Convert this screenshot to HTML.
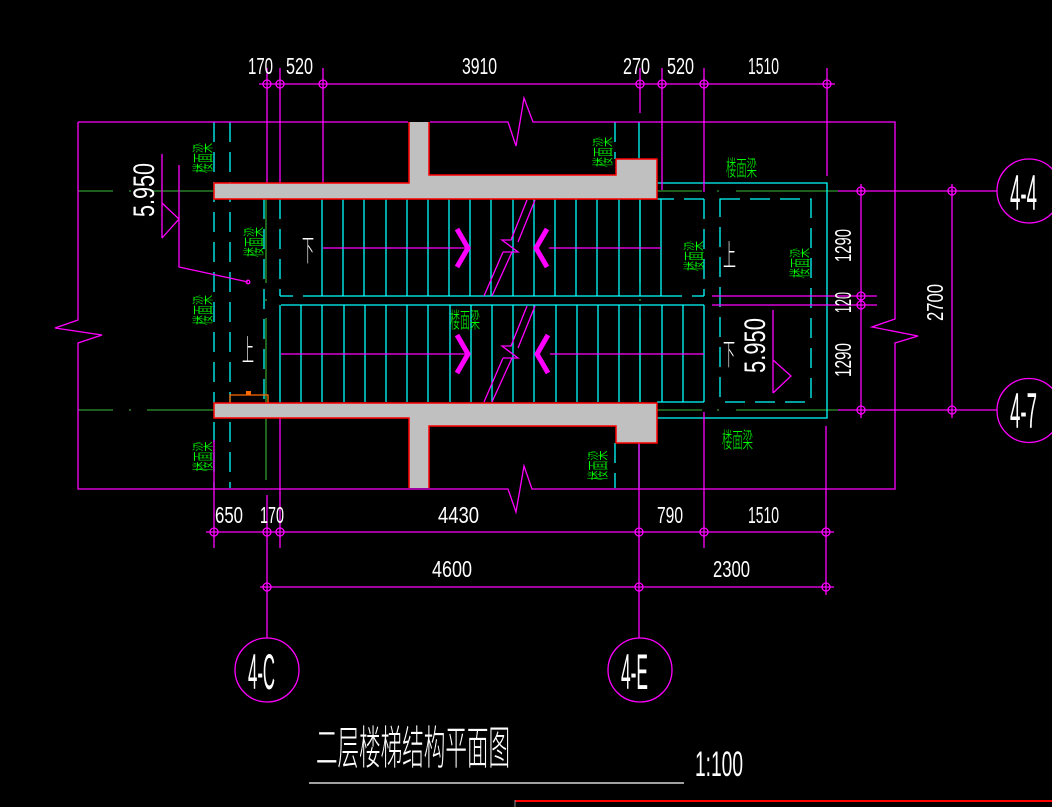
<!DOCTYPE html>
<html><head><meta charset="utf-8"><style>
html,body{margin:0;padding:0;background:#000;}
svg{display:block}
text{font-family:"DejaVu Sans ExtraLight","Liberation Sans","Noto Sans CJK SC",sans-serif;font-weight:200;}
</style></head><body>
<svg width="1052" height="807" viewBox="0 0 1052 807" xmlns="http://www.w3.org/2000/svg">
<rect width="1052" height="807" fill="#000"/>

<!-- green axis lines -->
<g stroke="#2f9a2f" stroke-width="1.3" fill="none">
<path d="M78,191H113M129,191H131M150,191H214M657,191H702M717,191H719M736,191H838"/>
<path d="M78,410H113M129,410H131M147,410H214M657,410H702M717,410H719M736,410H838"/>
<path d="M266,199V283M266,299V301M266,318V480"/>
<path d="M640,199V283M640,299V301M640,318V402"/>
</g>

<!-- cyan -->
<g stroke="#00ffff" stroke-width="1.3" fill="none">
<path d="M214,122V488M230,122V488" stroke-dasharray="20 10"/>
<path d="M264,199V403" stroke-dasharray="20 10"/>
<path d="M280,199V296" stroke-dasharray="20 10"/>
<path d="M704,199V296" stroke-dasharray="20 10"/>
<path d="M615,122V159M615,443V488" stroke-dasharray="20 10"/>
<path d="M639,122V159M639,443V488"/>
<path d="M280,296H293M303,296H682M692,296H704"/>
<path d="M281,305H704M280,305V403"/>
<path d="M657,199H674M684,199H704M657,402H704"/>
<path d="M322,199V296M343,199V296M364,199V296M386,199V296M407,199V296M428,199V296M449,199V296M470,199V296M491,199V296M513,199V296M534,199V296M555,199V296M576,199V296M597,199V296M619,199V296M640,199V296M661,199V296"/>
<path d="M301,305V402M322,305V402M344,305V402M365,305V402M386,305V402M407,305V402M428,305V402M450,305V402M471,305V402M492,305V402M513,305V402M534,305V402M556,305V402M577,305V402M598,305V402M619,305V402M640,305V402M662,305V402M683,305V402M704,305V402"/>
<rect x="720" y="199" width="91" height="203" stroke-dasharray="20 10"/>
<path d="M657,183H827V418H657"/>
</g>

<!-- magenta -->
<g stroke="#ff00ff" stroke-width="1.3" fill="none">
<path d="M78,122H408M430,122H508L516,146L524,98L533,122H895V319L872,327L918,336L895,343V489H532L524,466L516,512L508,489H78V343L102,335L55,328L78,320V122"/>
<path d="M259,84H835M267,68V183M280,68V183M323,68V183M640,68V113M662,68V190M704,68V192M827,68V176"/>
<path d="M206,532H834M260,587H834M214,440V548M267,495V638M280,418V548M639,443V638M704,412V548M826,426V595"/>
<path d="M838,191H997M838,410H997M861,184V418M952,184V418M712,296H877M712,305H877"/>
<circle cx="267" cy="84" r="4"/><circle cx="280" cy="84" r="4"/><circle cx="323" cy="84" r="4"/>
<circle cx="640" cy="84" r="4"/><circle cx="662" cy="84" r="4"/><circle cx="704" cy="84" r="4"/><circle cx="827" cy="84" r="4"/>
<circle cx="214" cy="532" r="4"/><circle cx="267" cy="532" r="4"/><circle cx="280" cy="532" r="4"/>
<circle cx="639" cy="532" r="4"/><circle cx="704" cy="532" r="4"/><circle cx="826" cy="532" r="4"/>
<circle cx="267" cy="587" r="4"/><circle cx="639" cy="587" r="4"/><circle cx="826" cy="587" r="4"/>
<circle cx="861" cy="191" r="4"/><circle cx="861" cy="296" r="4"/><circle cx="861" cy="305" r="4"/><circle cx="861" cy="410" r="4"/>
<circle cx="952" cy="191" r="4"/><circle cx="952" cy="410" r="4"/>
<circle cx="267" cy="670" r="32"/><circle cx="640" cy="670" r="32"/>
<circle cx="1029" cy="191" r="32"/><circle cx="1029" cy="410.5" r="32"/>
<path d="M162,154V238M162,203L179,219L162,238M179,165V267L248,282"/>
<circle cx="248" cy="282" r="1.8"/>
<path d="M773,310V393M773,360L791,376L773,393"/>
<path d="M323,248H467M549,248H661M281,354H467M550,354H704"/>
<path d="M484,296L503,252M492,296L512,252M503,252H518L502,240H511L527,200M518,242L535,200"/>
<path d="M484,402L503,358M492,402L512,358M503,358H518L502,346H511L527,306M518,348L535,306"/>
</g>
<g stroke="#ff00ff" stroke-width="5" fill="none" stroke-linejoin="miter">
<path d="M457,229L468,248L457,267"/>
<path d="M547,229L536,248L547,267"/>
<path d="M457,335L468,354L457,373"/>
<path d="M548,335L537,354L548,373"/>
</g>

<g stroke="#ff6a00" stroke-width="1.3" fill="none">
<path d="M230,403V395H268V403"/>
</g>
<rect x="246" y="391" width="5" height="4" fill="#ff6a00"/>

<!-- gray beams -->
<polygon points="214,183 409,183 409,122 429,122 429,175 616,175 616,159 657,159 657,199 214,199" fill="#c0c0c0"/>
<path d="M409,122V183H214V199H657V159H616V175H429V122" stroke="#ff0000" stroke-width="1.5" fill="none"/>
<polygon points="214,403 657,403 657,443 616,443 616,426 429,426 429,488 409,488 409,418 214,418" fill="#c0c0c0"/>
<path d="M409,488V418H214V403H657V443H616V426H429V488" stroke="#ff0000" stroke-width="1.5" fill="none"/>

<!-- white dimension text -->
<g fill="#fff" font-size="23">
<text x="248" y="74" textLength="25" lengthAdjust="spacingAndGlyphs">170</text>
<text x="286" y="74" textLength="27" lengthAdjust="spacingAndGlyphs">520</text>
<text x="462" y="74" textLength="35" lengthAdjust="spacingAndGlyphs">3910</text>
<text x="623" y="74" textLength="27" lengthAdjust="spacingAndGlyphs">270</text>
<text x="667" y="74" textLength="27" lengthAdjust="spacingAndGlyphs">520</text>
<text x="748" y="74" textLength="31" lengthAdjust="spacingAndGlyphs">1510</text>
<text x="215" y="523" textLength="28" lengthAdjust="spacingAndGlyphs">650</text>
<text x="260" y="523" textLength="24" lengthAdjust="spacingAndGlyphs">170</text>
<text x="438" y="523" textLength="41" lengthAdjust="spacingAndGlyphs">4430</text>
<text x="657" y="523" textLength="26" lengthAdjust="spacingAndGlyphs">790</text>
<text x="748" y="523" textLength="31" lengthAdjust="spacingAndGlyphs">1510</text>
<text x="432" y="577" textLength="40" lengthAdjust="spacingAndGlyphs">4600</text>
<text x="713" y="577" textLength="37" lengthAdjust="spacingAndGlyphs">2300</text>
<text transform="translate(851,245.5) rotate(-90)" text-anchor="middle" textLength="33" lengthAdjust="spacingAndGlyphs">1290</text>
<text transform="translate(851,302.5) rotate(-90)" text-anchor="middle" textLength="21" lengthAdjust="spacingAndGlyphs">120</text>
<text transform="translate(851,360) rotate(-90)" text-anchor="middle" textLength="34" lengthAdjust="spacingAndGlyphs">1290</text>
<text transform="translate(943,302.5) rotate(-90)" text-anchor="middle" textLength="37" lengthAdjust="spacingAndGlyphs">2700</text>
</g>
<g fill="#fff" font-size="30">
<text transform="translate(154,190) rotate(-90)" text-anchor="middle" textLength="54" lengthAdjust="spacingAndGlyphs">5.950</text>
<text transform="translate(765,345.5) rotate(-90)" text-anchor="middle" textLength="55" lengthAdjust="spacingAndGlyphs">5.950</text>
</g>
<g fill="#fff" font-size="50">
<text x="248" y="689" textLength="27" lengthAdjust="spacingAndGlyphs">4-C</text>
<text x="621" y="689" textLength="27" lengthAdjust="spacingAndGlyphs">4-E</text>
<text x="1010" y="210" textLength="27" lengthAdjust="spacingAndGlyphs">4-4</text>
<text x="1010" y="428" textLength="27" lengthAdjust="spacingAndGlyphs">4-7</text>
</g>
<g fill="#fff" font-size="30">
<text x="302" y="261" textLength="12" lengthAdjust="spacingAndGlyphs">下</text>
<text x="242" y="361" textLength="12" lengthAdjust="spacingAndGlyphs">上</text>
<text x="723" y="266" textLength="13" lengthAdjust="spacingAndGlyphs">上</text>
<text x="723" y="365" textLength="12" lengthAdjust="spacingAndGlyphs">下</text>
</g>

<!-- green beam labels -->
<g fill="#00ff00" font-size="22">
<text x="726" y="176" textLength="31" lengthAdjust="spacingAndGlyphs">楼面梁</text>
<text x="722" y="448" textLength="31" lengthAdjust="spacingAndGlyphs">楼面梁</text>
<text x="450" y="328" textLength="30" lengthAdjust="spacingAndGlyphs">楼面梁</text>
<text transform="translate(211,158) rotate(-90)" text-anchor="middle" textLength="30" lengthAdjust="spacingAndGlyphs">楼面梁</text>
<text transform="translate(262,242) rotate(-90)" text-anchor="middle" textLength="30" lengthAdjust="spacingAndGlyphs">楼面梁</text>
<text transform="translate(211,310) rotate(-90)" text-anchor="middle" textLength="30" lengthAdjust="spacingAndGlyphs">楼面梁</text>
<text transform="translate(211,456.5) rotate(-90)" text-anchor="middle" textLength="30" lengthAdjust="spacingAndGlyphs">楼面梁</text>
<text transform="translate(611,152) rotate(-90)" text-anchor="middle" textLength="30" lengthAdjust="spacingAndGlyphs">楼面梁</text>
<text transform="translate(702,256) rotate(-90)" text-anchor="middle" textLength="30" lengthAdjust="spacingAndGlyphs">楼面梁</text>
<text transform="translate(808,263) rotate(-90)" text-anchor="middle" textLength="30" lengthAdjust="spacingAndGlyphs">楼面梁</text>
<text transform="translate(606,465.5) rotate(-90)" text-anchor="middle" textLength="30" lengthAdjust="spacingAndGlyphs">楼面梁</text>
</g>

<!-- title -->
<text x="316" y="764" font-size="46" fill="#fff" textLength="194" lengthAdjust="spacingAndGlyphs">二层楼梯结构平面图</text>
<path d="M309,783H684" stroke="#fff" stroke-width="1.3"/>
<text x="695" y="776" font-size="35" fill="#fff" textLength="48" lengthAdjust="spacingAndGlyphs">1:100</text>

<path d="M515,801H1052" stroke="#ff0000" stroke-width="2"/>
<path d="M515,800V807" stroke="#888" stroke-width="1"/>
</svg>
</body></html>
